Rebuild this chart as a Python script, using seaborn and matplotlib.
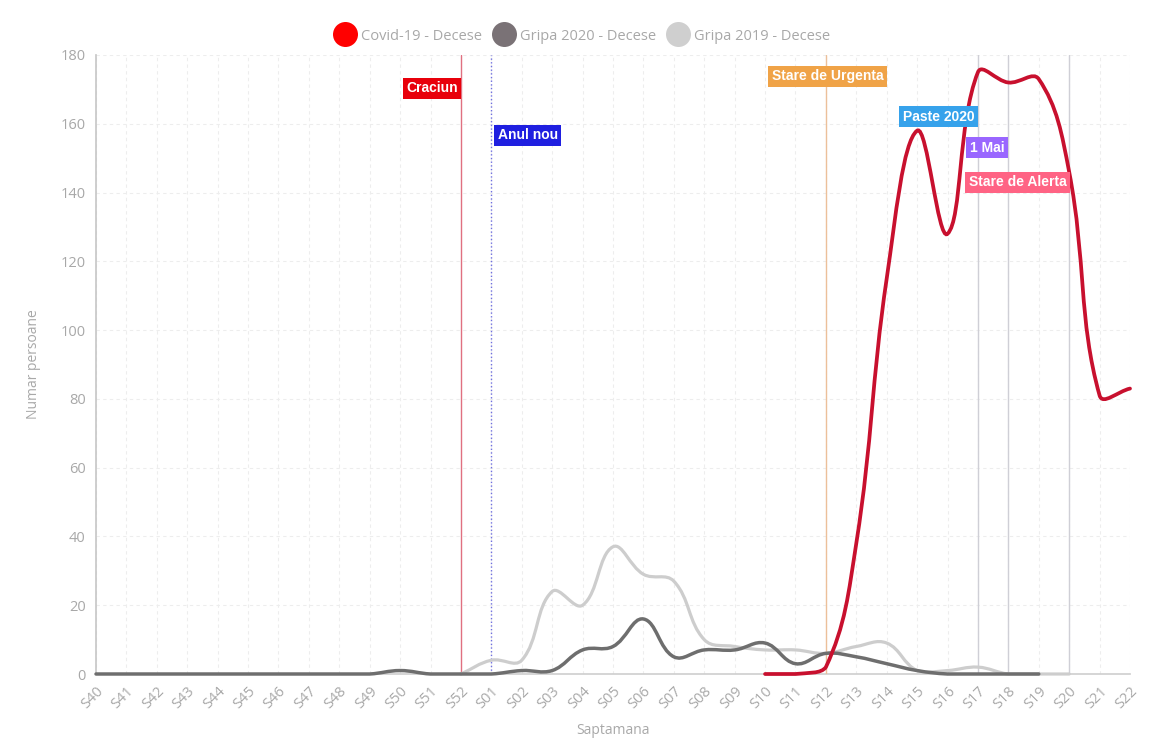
import numpy as np
import matplotlib
matplotlib.use("Agg")
import matplotlib.pyplot as plt
import seaborn as sns
from matplotlib.path import Path
from matplotlib.patches import PathPatch
from matplotlib.lines import Line2D

# ---------------------------- date ----------------------------
saptamani = ['S40', 'S41', 'S42', 'S43', 'S44', 'S45', 'S46', 'S47', 'S48', 'S49',
             'S50', 'S51', 'S52', 'S01', 'S02', 'S03', 'S04', 'S05', 'S06', 'S07',
             'S08', 'S09', 'S10', 'S11', 'S12', 'S13', 'S14', 'S15', 'S16', 'S17',
             'S18', 'S19', 'S20', 'S21', 'S22']

nan = np.nan
covid_decese = [nan] * 22 + [0, 0, 2, 38, 115, 158, 128, 175, 172, 173, 146, 81, 83]
gripa2020_decese = [0, 0, 0, 0, 0, 0, 0, 0, 0, 0,
                    1, 0, 0, 0, 1, 1, 7, 8, 16, 5,
                    7, 7, 9, 3, 6, 5, 3, 1, 0, 0,
                    0, 0] + [nan] * 3
gripa2019_decese = [nan] * 12 + [0, 4, 4, 24, 20, 37, 29, 27, 10, 8,
                                 7, 7, 6, 8, 9, 1, 1, 2, 0, 0, 0] + [nan] * 2

evenimente = ['Craciun', 'Anul nou', 'Stare de Urgenta', 'Paste 2020', '1 Mai', 'Stare de Alerta']
evenimente_sapt = ['S52', 'S01', 'S12', 'S17', 'S18', 'S20']

# ---------------------------- stil ---------------------------------------------
sns.set_theme(style="white")
plt.rcParams['font.family'] = ['Open Sans', 'DejaVu Sans']

gri_text = '#a8a8a8'
culori_serii = {'Covid-19 - Decese': ('#c8102e', '#ff0000'),
                'Gripa 2020 - Decese': ('#6e6e6e', '#7a7276'),
                'Gripa 2019 - Decese': ('#cdcdcd', '#cfcfcf')}

fig = plt.figure(figsize=(11.6, 7.5), dpi=100)
ax = fig.add_axes([96 / 1160, 1 - 674 / 750, (1130 - 96) / 1160, (674 - 55) / 750])

x = np.arange(len(saptamani))
ax.set_xlim(0, len(saptamani) - 1)
ax.set_ylim(0, 180)

# scara aproximativa in pixeli pentru curbura (ca in Chart.js, tension 0.4)
sx, sy = 30.4, 3.44


def cale_neteda(xs, ys, tension=0.4):
    px, py = xs * sx, ys * sy
    n = len(px)
    cps = []
    for i in range(n):
        ip = max(i - 1, 0)
        inx = min(i + 1, n - 1)
        d01 = np.hypot(px[i] - px[ip], py[i] - py[ip])
        d12 = np.hypot(px[inx] - px[i], py[inx] - py[i])
        tot = d01 + d12
        s01 = d01 / tot if tot else 0
        s12 = d12 / tot if tot else 0
        dx, dy = px[inx] - px[ip], py[inx] - py[ip]
        prev = (px[i] - tension * s01 * dx, py[i] - tension * s01 * dy)
        nxt = (px[i] + tension * s12 * dx, py[i] + tension * s12 * dy)
        cps.append((prev, nxt))
    verts = [(xs[0], ys[0])]
    codes = [Path.MOVETO]
    for i in range(n - 1):
        c1 = cps[i][1]
        c2 = cps[i + 1][0]
        verts += [(c1[0] / sx, min(max(c1[1] / sy, 0), 180)),
                  (c2[0] / sx, min(max(c2[1] / sy, 0), 180)),
                  (xs[i + 1], ys[i + 1])]
        codes += [Path.CURVE4] * 3
    return Path(verts, codes)


serii = [('Gripa 2019 - Decese', gripa2019_decese, 2.3),
         ('Gripa 2020 - Decese', gripa2020_decese, 2.5),
         ('Covid-19 - Decese', covid_decese, 2.7)]
for z, (nume, valori, lw) in enumerate(serii):
    v = np.array(valori, dtype=float)
    ok = ~np.isnan(v)
    cale = cale_neteda(x[ok].astype(float), v[ok])
    ax.add_patch(PathPatch(cale, facecolor='none', edgecolor=culori_serii[nume][0],
                           lw=lw, zorder=5 + z, clip_on=False, capstyle='round'))

# ---------------------------- linii de eveniment ---------------------------------
stil_linii = {'Craciun': ('#e07080', '-'), 'Anul nou': ('#7070e0', ':'),
              'Stare de Urgenta': ('#ecc09a', '-'), 'Paste 2020': ('#cfcfd6', '-'),
              '1 Mai': ('#cfcfd6', '-'), 'Stare de Alerta': ('#cfcfd6', '-')}
for ev, s in zip(evenimente, evenimente_sapt):
    c, ls = stil_linii[ev]
    ax.axvline(saptamani.index(s), color=c, ls=ls, lw=1.0, zorder=3)

etichete = {'Craciun': (11.05, 170.3, '#e8000b'),
            'Anul nou': (14.2, 156.7, '#1f1fe0'),
            'Stare de Urgenta': (24.05, 173.8, '#f0a347'),
            'Paste 2020': (27.7, 162.0, '#36a2eb'),
            '1 Mai': (29.3, 153.0, '#9966ff'),
            'Stare de Alerta': (30.3, 143.0, '#ff6384')}
for ev, (ex, ey, c) in etichete.items():
    ax.text(ex, ey, ev, ha='center', va='center', color='white', fontsize=10,
            fontweight='bold', family=['Liberation Sans', 'DejaVu Sans'], zorder=10,
            bbox=dict(boxstyle='square,pad=0.25', fc=c, ec='none'))

# ---------------------------- axe ---------------------------------------------
ax.set_xticks(x)
ax.set_xticklabels(saptamani, rotation=45, ha='right', rotation_mode='anchor')
ax.set_yticks(np.arange(0, 181, 20))
ax.tick_params(axis='both', colors=gri_text, labelsize=10.5, length=4, width=0.8)
ax.tick_params(axis='x', pad=3)
for lbl in ax.get_xticklabels() + ax.get_yticklabels():
    lbl.set_color(gri_text)

ax.grid(True, color='#ededed', lw=0.8, ls=(0, (3, 3)))
ax.set_axisbelow(True)
sns.despine(ax=ax, top=True, right=True)
ax.spines['left'].set_color('#c8c8c8')
ax.spines['bottom'].set_color('#d0d0d0')

ax.set_xlabel('Saptamana', color=gri_text, fontsize=10, labelpad=8)
ax.set_ylabel('Numar persoane', color=gri_text, fontsize=10, labelpad=14)

handles = [Line2D([], [], ls='none', marker='o', markersize=18,
                  markerfacecolor=culori_serii[n][1], markeredgecolor='none', label=n)
           for n in ['Covid-19 - Decese', 'Gripa 2020 - Decese', 'Gripa 2019 - Decese']]
leg = fig.legend(handles=handles, loc='center', bbox_to_anchor=(0.5, 1 - 36 / 750), ncol=3,
                 frameon=False, fontsize=10.5, handletextpad=0.1, columnspacing=0.5,
                 handlelength=2.0)
for t in leg.get_texts():
    t.set_color(gri_text)

fig.savefig('out.png', dpi=100)
